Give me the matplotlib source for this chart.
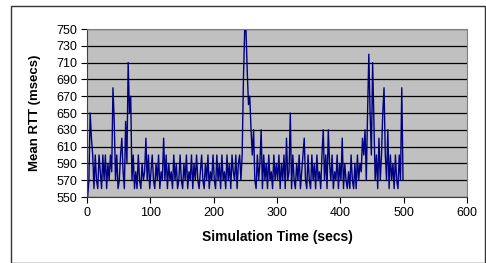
import matplotlib
matplotlib.use("Agg")
import matplotlib.pyplot as plt
from matplotlib.patches import Rectangle
import numpy as np

plt.rcParams['font.family'] = ['Liberation Sans', 'DejaVu Sans']

# time axis: every 2 seconds
time_secs = list(range(1, 500, 2))
rtt_msecs = [
    # 1-49
    550, 570, 650, 620, 600, 560, 600, 570, 560, 600, 580, 560, 600, 570, 600, 560, 590, 570, 600, 580, 680, 640, 570, 600, 560,
    # 51-99
    570, 600, 620, 580, 560, 640, 590, 710, 650, 670, 570, 600, 560, 580, 560, 600, 570, 560, 590, 570, 580, 620, 570, 600, 560,
    # 101-149
    580, 600, 570, 560, 590, 570, 600, 560, 580, 570, 620, 570, 600, 560, 590, 570, 580, 560, 600, 570, 590, 560, 570, 600, 570,
    # 151-199
    560, 590, 570, 600, 560, 580, 570, 600, 560, 590, 570, 600, 570, 560, 580, 600, 570, 560, 590, 570, 600, 560, 580, 570, 600,
    # 201-249
    570, 560, 600, 570, 590, 560, 600, 570, 580, 560, 600, 570, 590, 560, 600, 580, 570, 600, 560, 590, 600, 570, 600, 690, 750,
    # 251-299
    750, 700, 660, 670, 630, 600, 630, 570, 560, 600, 570, 590, 630, 560, 600, 570, 590, 560, 600, 570, 580, 560, 600, 570, 590,
    # 301-349
    570, 600, 560, 590, 570, 600, 560, 620, 570, 580, 650, 560, 600, 570, 560, 590, 570, 600, 560, 580, 600, 620, 570, 560, 600,
    # 351-399
    570, 560, 600, 570, 590, 560, 600, 570, 580, 560, 600, 630, 570, 600, 560, 630, 590, 570, 600, 560, 580, 570, 600, 560, 590,
    # 401-449
    570, 620, 560, 590, 570, 560, 580, 560, 600, 570, 560, 590, 560, 600, 570, 590, 580, 620, 600, 630, 570, 650, 720, 650, 600,
    # 451-499
    710, 640, 570, 600, 560, 620, 570, 600, 650, 680, 600, 570, 630, 560, 600, 570, 590, 560, 600, 570, 560, 600, 570, 680, 570,
]

x_ticks = [0, 100, 200, 300, 400, 500, 600]
y_ticks = [550, 570, 590, 610, 630, 650, 670, 690, 710, 730, 750]
x_label = "Simulation Time (secs)"
y_label = "Mean RTT (msecs)"

W, H = 486, 263
fig = plt.figure(figsize=(W / 100, H / 100), dpi=100)
fig.patches.append(Rectangle((11 / W, 0.5 / H), (485 - 11) / W, (257 - 0.5) / H,
                             transform=fig.transFigure, fill=False,
                             edgecolor='#333333', linewidth=1.0))

ax = fig.add_axes([87 / W, 1 - 197 / H, (467 - 87) / W, (197 - 29) / H])
ax.set_facecolor('#C0C0C0')
ax.plot(time_secs, rtt_msecs, color='#000080', linewidth=1.0, clip_on=True)

ax.set_xlim(0, 600)
ax.set_ylim(550, 750)
ax.set_xticks(x_ticks)
ax.set_yticks(y_ticks)
ax.yaxis.grid(True, color='black', linewidth=0.9)
ax.set_axisbelow(True)
ax.tick_params(axis='both', labelsize=9, length=4, width=0.8, pad=3, colors='black')
for s in ['top', 'right']:
    ax.spines[s].set_color('#808080')
for s in ['left', 'bottom']:
    ax.spines[s].set_color('#404040')
ax.set_xlabel(x_label, fontsize=10, fontweight='bold')
ax.set_ylabel(y_label, fontsize=9.5, fontweight='bold')
ax.xaxis.set_label_coords(0.5, -(237 - 197) / (197 - 29), transform=ax.transAxes)
ax.xaxis.label.set_verticalalignment('center')
ax.yaxis.set_label_coords(-(87 - 35) / (467 - 87), 0.5, transform=ax.transAxes)
ax.yaxis.label.set_verticalalignment('center')

fig.savefig("out.png", dpi=100)
